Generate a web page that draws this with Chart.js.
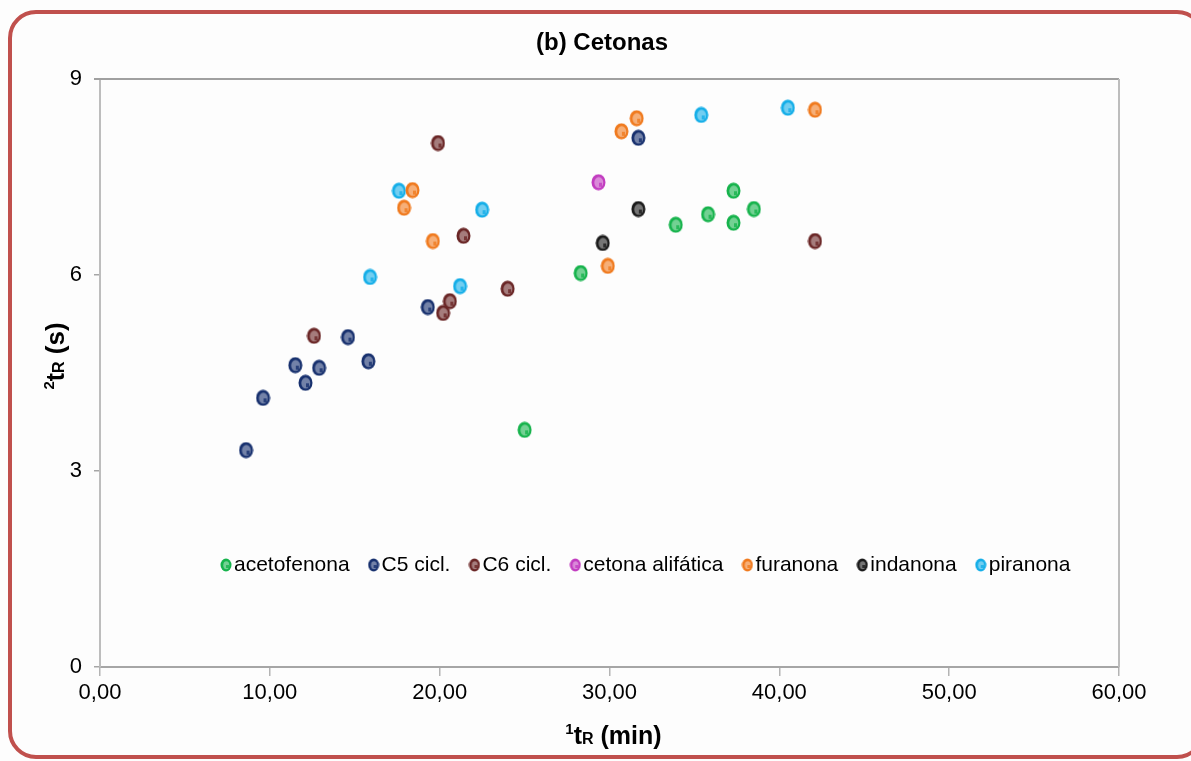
<!DOCTYPE html>
<html lang="es">
<head>
<meta charset="utf-8">
<title>(b) Cetonas</title>
<script src="https://cdn.jsdelivr.net/npm/chart.js@4.4.1/dist/chart.umd.min.js"></script>
<style>
  html, body { margin: 0; padding: 0; background: #fdfdfd; overflow: hidden; }
  #wrap { position: relative; width: 1191px; height: 761px; }
  #wrap canvas { position: absolute; left: 0; top: 0; }
  #frame {
    position: absolute; left: 8px; top: 10px; width: 1189px; height: 741px;
    border: 4px solid #c0504d; border-radius: 28px; pointer-events: none;
  }
</style>
</head>
<body>
<div id="wrap">
  <canvas id="chart" width="1191" height="761"></canvas>
  <div id="frame"></div>
</div>
<script>
// 1tR (min) / 2tR (s) por familia de compuestos
const acetofenona   = [[25.0, 3.63], [28.3, 6.03], [33.9, 6.77], [35.8, 6.93], [37.3, 7.29], [37.3, 6.80], [38.5, 7.01]];
const c5Cicl        = [[8.6, 3.32], [9.6, 4.12], [11.5, 4.62], [12.1, 4.35], [12.9, 4.58], [14.6, 5.05], [15.8, 4.68], [19.3, 5.51], [31.7, 8.10]];
const c6Cicl        = [[12.6, 5.07], [19.9, 8.02], [20.2, 5.42], [20.6, 5.60], [21.4, 6.60], [24.0, 5.79], [42.1, 6.52]];
const cetonaAlif    = [[29.35, 7.42]];
const furanona      = [[17.9, 7.03], [18.4, 7.30], [19.6, 6.52], [29.9, 6.14], [30.7, 8.20], [31.6, 8.40], [42.1, 8.53]];
const indanona      = [[29.6, 6.49], [31.7, 7.01]];
const piranona      = [[15.9, 5.97], [17.6, 7.29], [21.2, 5.83], [22.5, 7.00], [35.4, 8.45], [40.5, 8.56]];

const seriesNames  = ['acetofenona', 'C5 cicl.', 'C6 cicl.', 'cetona alifática', 'furanona', 'indanona', 'piranona'];
const seriesData   = [acetofenona, c5Cicl, c6Cicl, cetonaAlif, furanona, indanona, piranona];
const seriesColors = ['#16b34c', '#17306e', '#6a2626', '#c23cc0', '#f07a1e', '#1a1a1a', '#14aee8'];

const xTicks = [0, 10, 20, 30, 40, 50, 60];
const yTicks = [0, 3, 6, 9];

const FONT = '"Liberation Sans", Arial, sans-serif';

// marcador "brillante" tipo Excel
function makeMarker(color, w, h) {
  const c = document.createElement('canvas');
  c.width = w; c.height = h;
  const g = c.getContext('2d');
  g.beginPath();
  g.ellipse(w / 2, h / 2, w / 2 - 0.5, h / 2 - 0.5, 0, 0, Math.PI * 2);
  g.fillStyle = color; g.fill();
  g.beginPath();
  g.ellipse(w / 2 + 0.3, h / 2 + 0.3, w / 2 - 3, h / 2 - 3, 0, 0, Math.PI * 2);
  g.fillStyle = 'rgba(255,255,255,0.4)'; g.fill();
  g.globalAlpha = 0.8;
  g.fillStyle = color;
  g.fillRect(Math.round(w / 2), Math.round(h / 2), Math.ceil(w / 5), Math.ceil(h / 5));
  return c;
}

const bigMarkers   = seriesColors.map(c => makeMarker(c, 15, 17));
const smallMarkers = seriesColors.map(c => makeMarker(c, 12, 14));

// texto con superíndices / subíndices
function drawRuns(ctx, runs, x, y) {
  let total = 0;
  runs.forEach(r => { ctx.font = `bold ${r.size}px ${FONT}`; r.w = ctx.measureText(r.t).width; total += r.w; });
  let cx = x - total / 2;
  runs.forEach(r => {
    ctx.font = `bold ${r.size}px ${FONT}`;
    ctx.fillText(r.t, cx, y + (r.dy || 0));
    cx += r.w;
  });
}

const decorPlugin = {
  id: 'decor',
  beforeDatasetsDraw(chart) {
    const { ctx, chartArea: a } = chart;
    ctx.save();
    ctx.strokeStyle = '#a0a0a0';
    ctx.lineWidth = 2;
    ctx.beginPath(); ctx.moveTo(a.left - 6, a.top); ctx.lineTo(a.right, a.top); ctx.stroke();
    ctx.strokeStyle = '#bdbdbd';
    ctx.beginPath(); ctx.moveTo(a.right, a.top); ctx.lineTo(a.right, a.bottom); ctx.stroke();
    ctx.restore();
  },
  afterDraw(chart) {
    const { ctx, chartArea: a } = chart;
    ctx.save();
    ctx.fillStyle = '#000';
    ctx.textBaseline = 'alphabetic';
    ctx.textAlign = 'left';

    // título
    drawRuns(ctx, [{ t: '(b) Cetonas', size: 24 }], 602, 50);

    // título eje x
    drawRuns(ctx, [
      { t: '1', size: 15, dy: -10 }, { t: 't', size: 25 }, { t: 'R', size: 16 }, { t: ' (min)', size: 25 }
    ], (a.left + a.right) / 2 + 4, 744);

    // título eje y
    ctx.translate(64, 356);
    ctx.rotate(-Math.PI / 2);
    drawRuns(ctx, [
      { t: '2', size: 15, dy: -10 }, { t: 't', size: 25 }, { t: 'R', size: 16 }, { t: ' (s)', size: 26 }
    ], 0, 0);
    ctx.setTransform(1, 0, 0, 1, 0, 0);

    // leyenda dentro del área de trazado
    ctx.font = `21px ${FONT}`;
    ctx.textBaseline = 'middle';
    let x = a.left + 126;
    const y = a.top + 486;
    chart.data.datasets.forEach((ds, i) => {
      const m = smallMarkers[i];
      ctx.drawImage(m, x - m.width / 2, y - m.height / 2);
      ctx.fillText(ds.label, x + 8, y);
      x += 8 + ctx.measureText(ds.label).width + 24;
    });
    ctx.restore();
  }
};

new Chart(document.getElementById('chart'), {
  type: 'scatter',
  data: {
    datasets: seriesNames.map((name, i) => ({
      label: name,
      data: seriesData[i].map(([x, y]) => ({ x, y })),
      pointStyle: bigMarkers[i],
      pointRadius: 8,
      backgroundColor: seriesColors[i],
      borderColor: seriesColors[i]
    }))
  },
  options: {
    responsive: false,
    devicePixelRatio: 1,
    animation: false,
    layout: { padding: { left: 0, right: 72, top: 79, bottom: 0 } },
    plugins: { legend: { display: false }, title: { display: false }, tooltip: { enabled: false } },
    scales: {
      x: {
        type: 'linear', min: 0, max: 60,
        afterBuildTicks: s => { s.ticks = xTicks.map(v => ({ value: v })); },
        afterFit: s => { s.height = 94; },
        ticks: {
          autoSkip: false, maxRotation: 0, padding: 4, color: '#000',
          font: { family: FONT, size: 22 },
          callback: v => v.toFixed(2).replace('.', ',')
        },
        grid: { drawOnChartArea: false, drawTicks: true, tickLength: 9, color: '#b4b4b4', lineWidth: 1.5 },
        border: { color: '#a6a6a6', width: 2 }
      },
      y: {
        type: 'linear', min: 0, max: 9,
        afterBuildTicks: s => { s.ticks = yTicks.map(v => ({ value: v })); },
        afterFit: s => { s.width = 100; },
        ticks: { autoSkip: false, padding: 12, color: '#000', font: { family: FONT, size: 22 } },
        grid: { drawOnChartArea: false, drawTicks: true, tickLength: 6, color: '#a6a6a6', lineWidth: 1.5 },
        border: { color: '#bdbdbd', width: 2 }
      }
    }
  },
  plugins: [decorPlugin]
});
</script>
</body>
</html>
